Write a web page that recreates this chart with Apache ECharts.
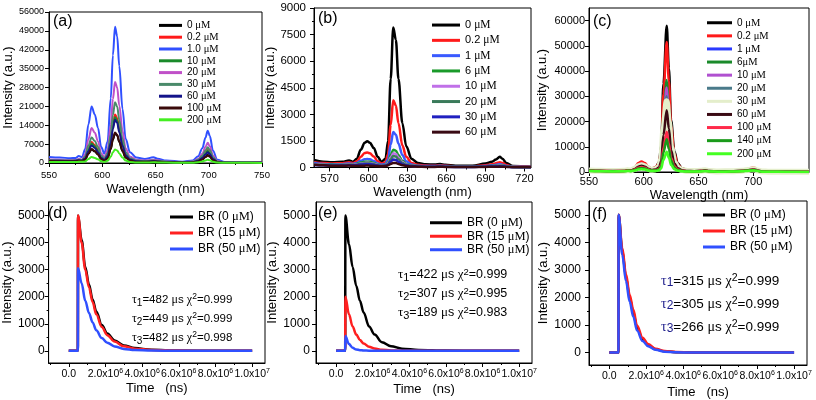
<!DOCTYPE html>
<html><head><meta charset="utf-8">
<script src="https://cdn.jsdelivr.net/npm/echarts@6/dist/echarts.min.js"></script>
<style>html,body{margin:0;padding:0;background:#fff}#c{width:816px;height:400px}</style>
</head><body><div id="c"></div>
<script>
// ---------------- DATA ----------------
// Panel (a) emission spectra
const WA = [550,560,570,575,578,581,584,587,590,593,596,599,602,605,608,610,612,614,616,619,622,626,632,640,648,652,660,675,685,690,694,697,699,701,704,708,715,730,750];
const A_LABELS = ['0 μM','0.2 μM','1.0 μM','10 μM','20 μM','30 μM','60 μM','100 μM','200 μM'];
const A_0   = [700,650,600,650,800,720,1250,3400,5000,4300,3100,1400,850,1750,5200,8700,11000,10200,7800,4400,2000,900,450,400,550,480,300,200,250,650,1400,2350,3000,2500,1100,320,120,100,80];
const A_02  = [900,850,800,850,1100,1000,1950,5300,7800,6700,4800,2200,1300,2900,8500,14200,18000,16700,12800,7200,3200,1450,750,600,800,700,400,250,400,1150,2500,4350,5500,4600,2000,550,200,150,100];
const A_1   = [2200,2000,1800,1900,2600,2200,5200,14300,21000,18000,13000,5900,3500,8000,24000,40000,50500,47000,36000,20000,9000,4000,2000,1500,2100,1600,900,500,900,2500,5500,9500,12000,10000,4500,1200,400,300,200];
const A_10  = [900,850,800,850,1050,950,1800,4900,7200,6200,4450,2000,1200,2700,8000,13400,17000,15800,12100,6800,3000,1350,700,550,750,650,380,250,350,950,2100,3550,4500,3700,1650,450,150,120,100];
const A_20  = [1300,1200,1100,1150,1500,1300,3250,8800,13000,11200,8000,3600,2100,4800,14000,23700,30000,28000,21300,12000,5400,2400,1200,900,1200,1000,550,300,550,1500,3400,6000,7500,6200,2800,750,250,200,150];
const A_30  = [1000,950,900,950,1250,1100,2400,6500,9500,8200,5900,2700,1600,3600,10600,17800,22500,21000,16000,9000,4000,1800,900,700,950,800,450,280,450,1200,2700,4600,5800,4800,2150,600,200,150,120];
const A_60  = [850,800,750,800,1000,900,1650,4400,6500,5600,4000,1850,1100,2550,7500,12600,16000,14900,11400,6400,2900,1300,650,500,700,600,350,230,320,850,1850,3150,4000,3300,1500,400,150,120,100];
const A_100 = [720,670,620,670,820,740,1300,3550,5200,4450,3200,1450,880,1800,5300,8900,11300,10500,8000,4500,2050,920,460,420,560,500,300,200,240,600,1300,2200,2800,2350,1050,300,120,100,80];
const A_200 = [400,380,350,370,450,420,550,1500,2200,1900,1350,620,400,800,2350,3950,5000,4650,3550,2000,900,400,220,200,260,230,150,100,120,270,570,950,1200,1000,450,150,60,50,40];
const A_XTICKS = [550,600,650,700,750];
const A_YTICKS = [0,7000,14000,21000,28000,35000,42000,49000,56000];

// Panel (b)
const WB = [558,565,572,580,585,588,591,594,597,599,601,604,607,610,613,615,617,619,621,623,626,629,633,638,644,651,655,659,667,680,690,695,698,701,703,706,711,725];
const B_LABELS = ['0 μM','0.2 μM','1 μM','6 μM','10 μM','20 μM','30 μM','60 μM'];
const B_0  = [420,330,300,320,400,320,500,1000,1400,1480,1400,1100,600,320,500,1500,5000,7900,7200,5000,2500,1200,500,250,180,170,200,150,100,100,220,320,450,600,500,250,80,40];
const B_02 = [300,250,230,240,300,250,350,600,820,850,800,620,350,220,300,750,2400,3800,3500,2500,1250,600,260,150,110,100,130,100,70,70,130,180,240,300,260,140,50,30];
const B_1  = [250,200,180,190,230,200,260,380,460,480,460,360,220,160,200,450,1300,2000,1850,1350,700,350,170,100,80,80,100,80,50,50,90,120,150,180,160,90,40,25];
const B_6  = [200,170,150,160,190,170,210,280,320,330,320,260,170,130,160,280,700,1000,950,700,380,200,120,80,60,60,80,60,40,40,70,90,110,130,120,70,30,20];
const B_10 = [180,150,130,140,170,150,180,230,260,270,260,210,140,110,140,240,560,800,760,560,310,170,100,70,50,50,70,50,35,35,60,75,90,110,100,60,25,20];
const B_20 = [160,135,120,125,150,135,160,200,220,225,220,180,125,100,120,200,460,650,620,460,260,150,90,60,45,45,60,45,30,30,50,65,80,95,85,50,22,18];
const B_30 = [140,120,105,110,130,120,140,165,180,185,180,150,110,90,105,160,330,450,430,330,190,120,80,55,40,40,50,40,28,28,45,55,65,75,70,45,20,15];
const B_60 = [150,120,100,100,110,100,100,100,105,110,105,95,80,70,80,120,200,260,250,200,130,90,60,45,35,35,40,35,25,25,35,40,45,50,45,35,18,12];
const B_XTICKS = [570,600,630,660,690,720];
const B_YTICKS = [0,1500,3000,4500,6000,7500,9000];

// Panel (c)
const WC = [550,560,572,582,585,588,592,595,598,601,604,607,611,614,616,618,621,623,625,628,631,635,640,646,652,656,660,668,680,690,695,698,701,704,708,715,730,751];
const C_LABELS = ['0 μM','0.2 μM','1 μM','6μM','10 μM','20 μM','30 μM','60 μM','100 μM','140 μM','200 μM'];
const C_0   = [800,600,500,600,900,800,1700,3200,3800,3300,2000,1200,1800,4000,10500,35000,58000,41000,20500,8200,3500,1500,700,500,700,1000,600,300,400,700,1000,1200,1300,800,300,150,100,80];
const C_02  = [900,700,600,700,1000,900,1900,3600,4200,3600,2200,1300,1900,3600,9400,31000,51500,36000,18000,7200,3100,1400,700,500,700,1100,650,300,450,800,1200,1600,1700,1000,350,150,100,80];
const C_1   = [700,550,450,550,800,700,1500,2800,3300,2800,1700,1000,1300,2300,6000,20000,33000,23000,11500,4600,2000,900,500,400,550,800,500,250,350,600,900,1150,1250,750,280,120,90,70];
const C_6   = [650,500,420,500,750,650,1400,2600,3000,2600,1600,950,1400,2500,6600,22000,36500,25500,12800,5100,2200,1000,500,400,550,800,500,250,350,600,850,1100,1200,700,260,110,80,60];
const C_10  = [680,530,440,530,780,680,1450,2700,3200,2700,1650,980,1300,2350,6100,20300,33500,23400,11700,4700,2000,900,500,400,550,800,500,250,350,600,880,1120,1220,730,270,120,85,65];
const C_20  = [620,480,400,480,720,620,1300,2450,2900,2450,1500,900,1200,2100,5400,18000,30000,21000,10500,4200,1800,820,450,370,500,750,460,230,320,550,800,1020,1100,660,250,110,80,60];
const C_30  = [600,460,380,460,700,600,1250,2300,2700,2300,1400,850,1100,2000,5000,16800,28000,19600,9800,3900,1700,780,430,350,480,700,440,220,300,520,760,970,1050,630,240,100,75,55];
const C_60  = [580,450,370,440,650,560,1150,2100,2500,2100,1300,800,1000,1750,4400,14700,24500,17200,8600,3400,1500,700,400,330,450,650,420,210,290,500,720,920,1000,600,230,100,70,55];
const C_100 = [500,400,330,400,560,480,950,1700,2000,1700,1050,650,750,1200,2900,9600,16000,11200,5600,2250,1000,500,300,260,350,520,340,180,240,420,620,780,850,520,200,90,65,50];
const C_140 = [450,350,300,350,500,430,800,1400,1600,1400,880,550,620,1000,2400,7800,13000,9100,4550,1800,800,400,250,220,300,450,300,160,210,370,550,700,750,460,180,80,60,45];
const C_200 = [350,280,240,280,380,330,580,950,1100,950,620,400,420,650,1500,4800,8000,5600,2800,1100,500,280,180,160,220,320,220,120,160,280,420,530,570,350,140,60,45,35];
const C_XTICKS = [550,600,650,700];
const C_YTICKS = [0,10000,20000,30000,40000,50000,60000];

// Panels (d)(e)(f) luminescence decay
const TD = [0,4.95e5,5.05e5,7e5,9e5,1.1e6,1.3e6,1.5e6,1.8e6,2.1e6,2.5e6,3.0e6,3.6e6,4.5e6,6e6,8e6,1e7];
const DEC_LABELS = ['BR (0 μM)','BR (15 μM)','BR (50 μM)'];
const D_0  = [0,0,5000,4100,3100,2450,1900,1450,950,640,380,200,100,40,10,3,0];
const D_15 = [0,0,5000,4000,3000,2350,1800,1350,880,580,340,170,80,30,8,2,0];
const D_50 = [0,0,3050,2500,1850,1400,1050,760,470,300,160,70,30,10,3,0,0];
const E_0  = [0,0,5000,3950,3100,2400,1850,1420,900,600,320,170,80,30,8,2,0];
const E_15 = [0,0,2000,1350,900,600,400,270,150,85,40,15,5,0,0,0,0];
const E_50 = [0,0,550,250,110,50,25,12,5,0,0,0,0,0,0,0,0];
const F_0  = [0,0,5000,3700,2750,2000,1450,900,480,270,120,45,15,5,0,0,0];
const F_15 = [0,0,5000,3800,2850,2100,1550,980,540,310,140,55,18,5,0,0,0];
const F_50 = [0,0,5000,3550,2600,1850,1300,800,420,230,100,35,12,4,0,0,0];
const T_XTICKS = [0,2e6,4e6,6e6,8e6,1e7];
const T_XLABELS = ['0.0','2.0x10{s|6}','4.0x10{s|6}','6.0x10{s|6}','8.0x10{s|6}','1.0x10{s|7}'];
const T_YTICKS = [0,1000,2000,3000,4000,5000];
const TAU = {d:['482','449','482'], e:['422','307','189'], f:['315','305','266']};
const CHI = {d:['0.999','0.999','0.998'], e:['0.999','0.995','0.983'], f:['0.999','0.999','0.999']};

// ---------------- STYLE / LAYOUT ----------------
const FONT = '"Liberation Sans", Arial, sans-serif';
const SERIF = '"Liberation Serif", "Times New Roman", serif';
const PN = ['a','b','c','d','e','f'];

const panels = [
  {grid:{left:49,top:12,width:213,height:151}, x:[550,750], y:[0,56000], xt:A_XTICKS, xm:[575,625,675,725], yt:A_YTICKS, ym:[],
   xfs:9.5, yfs:9, xmargin:6, ymargin:5, xname:'Wavelength (nm)', xgap:18, ygap:34},
  {grid:{left:314,top:8,width:217,height:159.5}, x:[558,725], y:[0,9000], xt:B_XTICKS, xm:[585,615,645,675,705], yt:B_YTICKS, ym:[750,2250,3750,5250,6750,8250],
   xfs:11, yfs:11.5, xmargin:5, ymargin:8, xname:'Wavelength (nm)', xgap:17, ygap:30},
  {grid:{left:589,top:8,width:220,height:164}, x:[550,751], y:[0,65000], xt:C_XTICKS, xm:[575,625,675,725], yt:C_YTICKS, ym:[],
   xfs:11, yfs:11, xmargin:3, ymargin:4, xname:'Wavelength (nm)', xgap:14, ygap:40},
  {grid:{left:45,top:202,width:220,height:161}, x:[-1.1e6,1.07e7], y:[-450,5500], xt:T_XTICKS, xl:T_XLABELS, xm:[-1e6,1e6,3e6,5e6,7e6,9e6], yt:T_YTICKS, ym:[500,1500,2500,3500,4500],
   xfs:10.5, yfs:12, xmargin:5, ymargin:4, xname:'Time   (ns)', xgap:18, ygap:32},
  {grid:{left:316,top:202,width:216,height:161}, x:[-1.1e6,1.07e7], y:[-450,5500], xt:T_XTICKS, xl:T_XLABELS, xm:[-1e6,1e6,3e6,5e6,7e6,9e6], yt:T_YTICKS, ym:[500,1500,2500,3500,4500],
   xfs:10.5, yfs:12, xmargin:5, ymargin:6, xname:'Time   (ns)', xgap:20, ygap:33},
  {grid:{left:589,top:201,width:218,height:164}, x:[-1.1e6,1.07e7], y:[-450,5500], xt:T_XTICKS, xl:T_XLABELS, xm:[-1e6,1e6,3e6,5e6,7e6,9e6], yt:T_YTICKS, ym:[500,1500,2500,3500,4500],
   xfs:10.5, yfs:12, xmargin:5, ymargin:8, xname:'Time   (ns)', xgap:21, ygap:38}
];

const grid = [], xAxis = [], yAxis = [];
panels.forEach((p, i) => {
  grid.push(Object.assign({show:true, borderColor:'#000', borderWidth:1, backgroundColor:'transparent', containLabel:false}, p.grid));
  const nameStyle = {fontFamily:FONT, fontSize:13, color:'#000'};
  xAxis.push({
    type:'value', gridIndex:i, min:p.x[0], max:p.x[1], position:'bottom',
    axisLine:{show:true, onZero:false, lineStyle:{color:'#000', width:1}},
    axisTick:{show:true, length:4, customValues:p.xt, lineStyle:{color:'#000'}},
    axisLabel:{customValues:p.xt, fontFamily:FONT, fontSize:p.xfs, color:'#000', margin:p.xmargin, lineHeight:13,
      formatter: p.xl ? (v => p.xl[p.xt.indexOf(v)]) : (v => String(v)),
      rich:{s:{fontSize:7, lineHeight:9, verticalAlign:'top', fontFamily:FONT, color:'#000'}}},
    splitLine:{show:false},
    name:p.xname, nameLocation:'middle', nameGap:p.xgap, nameTextStyle:nameStyle
  });
  xAxis.push({
    type:'value', gridIndex:i, min:p.x[0], max:p.x[1], position:'bottom',
    axisLine:{show:false, onZero:false}, axisLabel:{show:false}, splitLine:{show:false},
    axisTick:{show:p.xm.length>0, length:2, customValues:p.xm, lineStyle:{color:'#000'}}
  });
  yAxis.push({
    type:'value', gridIndex:i, min:p.y[0], max:p.y[1], position:'left',
    axisLine:{show:true, onZero:false, lineStyle:{color:'#000', width:1}},
    axisTick:{show:true, length:4, customValues:p.yt, lineStyle:{color:'#000'}},
    axisLabel:{customValues:p.yt, fontFamily:FONT, fontSize:p.yfs, color:'#000', margin:p.ymargin, formatter:v => String(v)},
    splitLine:{show:false},
    name:'Intensity (a.u.)', nameLocation:'middle', nameGap:p.ygap, nameTextStyle:nameStyle
  });
  yAxis.push({
    type:'value', gridIndex:i, min:p.y[0], max:p.y[1], position:'left',
    axisLine:{show:false, onZero:false}, axisLabel:{show:false}, splitLine:{show:false},
    axisTick:{show:p.ym.length>0, length:2, customValues:p.ym, lineStyle:{color:'#000'}}
  });
});

const series = [];
function mk(pi, label, xs, ys, color, width, z) {
  series.push({
    type:'line', name:PN[pi]+'#'+label, xAxisIndex:2*pi, yAxisIndex:2*pi,
    data:xs.map((x, k) => [x, ys[k]]), symbol:'none', showSymbol:false,
    smooth:0.35, smoothMonotone:'x', lineStyle:{color, width}, itemStyle:{color},
    emphasis:{disabled:true}, silent:true, z:z||2
  });
}
const A_COL = ['#000000','#ff1a1a','#3050ff','#1a8a2a','#c050c8','#4a8a6a','#14148a','#3a0a0a','#44ee22'];
[A_0,A_02,A_1,A_10,A_20,A_30,A_60,A_100,A_200].forEach((v, k) => mk(0, A_LABELS[k], WA, v, A_COL[k], 2));
const B_COL = ['#000000','#ff1a1a','#3a5aff','#1a9a2a','#c070e8','#3a7a5a','#2020c0','#3a0a14'];
[B_0,B_02,B_1,B_6,B_10,B_20,B_30,B_60].forEach((v, k) => mk(1, B_LABELS[k], WB, v, B_COL[k], 2.5));
const C_COL = ['#000000','#ff1a1a','#2a3aff','#1a8a2a','#b050d0','#4a7a8a','#e4eecb','#3a0a14','#ff2a4a','#1a9a1a','#44ff22'];
[C_0,C_02,C_1,C_6,C_10,C_20,C_30,C_60,C_100,C_140,C_200].forEach((v, k) => mk(2, C_LABELS[k], WC, v, C_COL[k], k===6?6:2.5));
const T_COL = ['#000000','#ff2020','#3050ff'];
[D_0,D_15,D_50].forEach((v, k) => mk(3, DEC_LABELS[k], TD, v, T_COL[k], 2.5));
[E_0,E_15,E_50].forEach((v, k) => mk(4, DEC_LABELS[k], TD, v, T_COL[k], 2.5));
[F_0,F_15,F_50].forEach((v, k) => mk(5, DEC_LABELS[k], TD, v, T_COL[k], 2.5));

function leg(pi, labels, left, top, fs, lh, iw) {
  return {
    show:true, orient:'vertical', left, top, padding:0, itemGap:0, icon:'rect',
    itemWidth:iw, itemHeight:3, selectedMode:false,
    data:labels.map(l => PN[pi]+'#'+l),
    formatter:n => n.split('#')[1].replace('μM','{u|μM}'),
    textStyle:{fontFamily:FONT, fontSize:fs, color:'#000', lineHeight:lh,
      rich:{u:{fontFamily:SERIF, fontSize:fs+0.5, color:'#000', lineHeight:lh}}}
  };
}
const legend = [
  leg(0, A_LABELS, 159, 19.5, 10, 11.8, 23),
  leg(1, B_LABELS, 432, 17.4, 11, 15.3, 28),
  leg(2, C_LABELS, 707, 16.2, 10, 13.1, 25),
  leg(3, DEC_LABELS, 170, 209, 12, 16, 23),
  leg(4, DEC_LABELS, 430, 216, 12, 13.5, 32),
  leg(5, DEC_LABELS, 703, 207, 12, 16, 22)
];

const graphic = [];
[['(a)',53,22],['(b)',318,19],['(c)',593,22],['(d)',48,214],['(e)',318,214],['(f)',592,215]].forEach(t => {
  graphic.push({type:'text', x:t[1], y:t[2], silent:true,
    style:{text:t[0], fontFamily:FONT, fontSize:16, fill:'#000', verticalAlign:'middle'}});
});
function ann(key, x, ys, fs, tauColor) {
  ys.forEach((y, k) => {
    graphic.push({type:'text', x, y, silent:true, style:{
      text:'{g|τ}{sb|' + (k+1) + '}=' + TAU[key][k] + ' {h|μ}s {h|χ}{sp|2}=' + CHI[key][k],
      fontFamily:FONT, fontSize:fs, fill:'#000', verticalAlign:'middle', lineHeight:16,
      rich:{
        g:{fontFamily:SERIF, fontSize:fs+0.5, fill:tauColor||'#000', lineHeight:16},
        h:{fontFamily:SERIF, fontSize:fs+0.5, fill:'#000', lineHeight:16},
        sb:{fontFamily:FONT, fontSize:fs-1.5, fill:tauColor||'#000', lineHeight:10, verticalAlign:'bottom'},
        sp:{fontFamily:FONT, fontSize:fs-3, fill:'#000', lineHeight:9, verticalAlign:'top'}
      }}});
  });
}
ann('d', 132, [300,319,338], 11.5);
ann('e', 398, [275,294,313], 12.5);
ann('f', 661, [281,304,327], 13.5, '#1a1a8a');

const chart = echarts.init(document.getElementById('c'), null, {renderer:'canvas', width:816, height:400});
chart.setOption({
  animation:false, backgroundColor:'#fff',
  textStyle:{fontFamily:FONT},
  grid, xAxis, yAxis, series, legend, graphic
});
</script></body></html>
